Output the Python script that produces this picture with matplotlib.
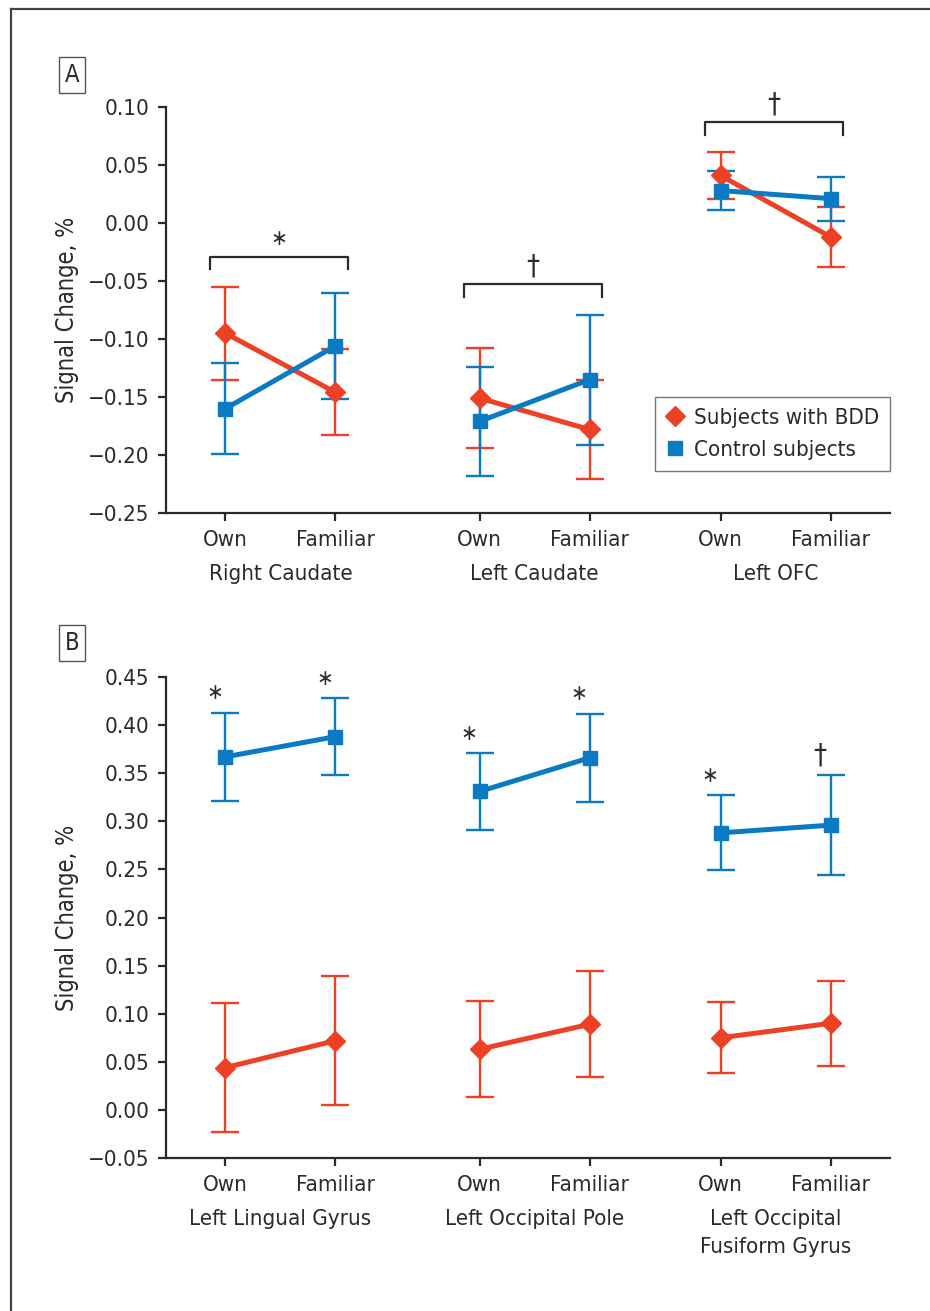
import matplotlib.pyplot as plt
import numpy as np
from matplotlib import font_manager as fm
from matplotlib.lines import Line2D

# condensed sans if there is one, otherwise plain
fonts = {(f.name, f.stretch) for f in fm.fontManager.ttflist}
names = {n for n, _ in fonts}
if 'Liberation Sans Narrow' in names:
    plt.rcParams['font.family'] = ['Liberation Sans Narrow', 'DejaVu Sans']
elif ('DejaVu Sans', 'condensed') in fonts or ('DejaVu Sans', 'semi-condensed') in fonts:
    plt.rcParams['font.family'] = ['DejaVu Sans']
    plt.rcParams['font.stretch'] = 'condensed'
else:
    plt.rcParams['font.family'] = ['Liberation Sans', 'DejaVu Sans']

# --- data -------------------------------------------------------------
conditions = ['Own', 'Familiar']
regions_a = ['Right Caudate', 'Left Caudate', 'Left OFC']
regions_b = ['Left Lingual Gyrus', 'Left Occipital Pole', 'Left Occipital\nFusiform Gyrus']

# order: region1 Own, region1 Familiar, region2 Own, ...
bdd_a = [-0.095, -0.146, -0.151, -0.178, 0.041, -0.012]
bdd_a_err = [0.040, 0.037, 0.043, 0.043, 0.020, 0.026]
ctl_a = [-0.160, -0.106, -0.171, -0.135, 0.028, 0.021]
ctl_a_err = [0.039, 0.046, 0.047, 0.056, 0.017, 0.019]
marks_a = ['∗', '†', '†']

bdd_b = [0.044, 0.072, 0.063, 0.089, 0.075, 0.090]
bdd_b_err = [0.067, 0.067, 0.050, 0.055, 0.037, 0.044]
ctl_b = [0.367, 0.388, 0.331, 0.366, 0.288, 0.296]
ctl_b_err = [0.046, 0.040, 0.040, 0.046, 0.039, 0.052]
marks_b = ['∗', '∗', '∗', '∗', '∗', '†']

yticks_a = np.round(np.arange(-0.25, 0.101, 0.05), 2)
yticks_b = np.round(np.arange(-0.05, 0.451, 0.05), 2)

# --- style ------------------------------------------------------------
RED = '#EC4124'
BLUE = '#0A7AC4'
INK = '#2a2a2a'
FS = 16
group_start = [0.54, 2.85, 5.04]
x = np.array([g + d for g in group_start for d in (0, 1.0)])

fig = plt.figure(figsize=(9.3, 13.11), dpi=100)
ax_a = fig.add_axes([166/930, 1 - 513/1311, 724/930, 406/1311])
ax_b = fig.add_axes([166/930, 1 - 1158/1311, 724/930, 481/1311])

# outer frame
fig.add_artist(Line2D([11/930, 11/930], [0, 1 - 9/1311], color='#444444', lw=1.6))
fig.add_artist(Line2D([11/930, 1], [1 - 9/1311, 1 - 9/1311], color='#444444', lw=1.6))


def draw_series(ax, vals, errs, color, marker, ms):
    for i in range(3):
        sl = slice(2 * i, 2 * i + 2)
        ax.errorbar(x[sl], vals[sl], yerr=errs[sl], color=color, lw=3.6,
                    marker=marker, ms=ms, mec=color, mfc=color,
                    elinewidth=1.7, capsize=10, capthick=1.7, zorder=3)


def mark_size(mk):
    # daggers print taller than the asterisks
    return 21 if mk == '†' else 16


def style_axes(ax, yticks, regions):
    ax.set_xlim(0, 6.58)
    ax.set_ylim(yticks[0], yticks[-1])
    ax.set_yticks(yticks)
    ax.set_yticklabels([f'{v:.2f}'.replace('-', '−') if abs(v) > 1e-9 else '0.00'
                        for v in yticks])
    ax.set_xticks(x)
    ax.set_xticklabels(conditions * 3)
    for s in ('top', 'right'):
        ax.spines[s].set_visible(False)
    for s in ('left', 'bottom'):
        ax.spines[s].set_color(INK)
        ax.spines[s].set_linewidth(1.6)
    ax.tick_params(colors=INK, labelsize=FS, width=1.6, length=6, pad=6)
    ax.set_ylabel('Signal Change, %', fontsize=17, color=INK)
    ax.yaxis.set_label_coords(-0.12, 0.5)
    trans = ax.get_xaxis_transform()
    for g, name in zip(group_start, regions):
        ax.annotate(name, (g + 0.5, 0), xycoords=trans, xytext=(0, -37),
                    textcoords='offset points', ha='center', va='top',
                    fontsize=FS, color=INK, linespacing=1.5)


# --- panel A ----------------------------------------------------------
draw_series(ax_a, bdd_a, bdd_a_err, RED, 'D', 10)
draw_series(ax_a, ctl_a, ctl_a_err, BLUE, 's', 10)
style_axes(ax_a, yticks_a, regions_a)

tops = np.maximum(np.array(bdd_a) + bdd_a_err, np.array(ctl_a) + ctl_a_err)
for i, mk in enumerate(marks_a):
    yb = tops[2 * i:2 * i + 2].max() + 0.026
    x0, x1 = x[2 * i] - 0.14, x[2 * i + 1] + 0.11
    ax_a.plot([x0, x0, x1, x1], [yb - 0.011, yb, yb, yb - 0.011],
              color=INK, lw=1.6, clip_on=False)
    ax_a.annotate(mk, ((x0 + x1) / 2, yb), xytext=(0, 13), textcoords='offset points',
                  ha='center', va='center', fontsize=mark_size(mk), color=INK,
                  family=['DejaVu Sans'], annotation_clip=False)

handles = [Line2D([], [], ls='none', marker='D', ms=10, color=RED),
           Line2D([], [], ls='none', marker='s', ms=10, color=BLUE)]
leg = ax_a.legend(handles, ['Subjects with BDD', 'Control subjects'],
                  loc='lower right', bbox_to_anchor=(1.0, 0.103), borderaxespad=0,
                  fontsize=FS, frameon=True, fancybox=False, handlelength=0.8,
                  handletextpad=0.45, borderpad=0.5, labelspacing=0.55)
leg.get_frame().set_edgecolor('#555555')
leg.get_frame().set_linewidth(1.0)
for t in leg.get_texts():
    t.set_color(INK)

# --- panel B ----------------------------------------------------------
draw_series(ax_b, bdd_b, bdd_b_err, RED, 'D', 10)
draw_series(ax_b, ctl_b, ctl_b_err, BLUE, 's', 10)
style_axes(ax_b, yticks_b, regions_b)

for xi, v, e, mk in zip(x, ctl_b, ctl_b_err, marks_b):
    ax_b.annotate(mk, (xi, v + e), xytext=(-8, 14), textcoords='offset points',
                  ha='center', va='center', fontsize=mark_size(mk), color=INK,
                  family=['DejaVu Sans'], annotation_clip=False)

# panel letters
for lab, yc in (('A', 75), ('B', 643)):
    fig.text(72/930, 1 - yc/1311, lab, ha='center', va='center', fontsize=17,
             color=INK, bbox=dict(boxstyle='square,pad=0.25', fc='white',
                                  ec='#555555', lw=1.0))

fig.savefig('out.png', dpi=100)
